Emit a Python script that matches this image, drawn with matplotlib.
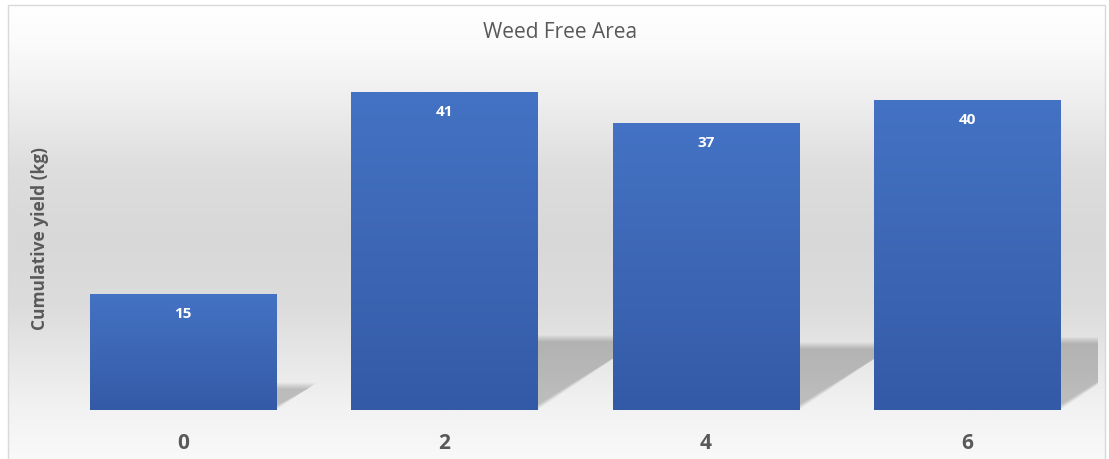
import numpy as np
import matplotlib
matplotlib.use("Agg")
import matplotlib.pyplot as plt
from matplotlib.colors import LinearSegmentedColormap
from matplotlib.patches import Polygon, Rectangle

# ---- data ----
categories = ["0", "2", "4", "6"]
yield_kg = [15, 41, 37, 40]
title = "Weed Free Area"
ylabel = "Cumulative yield (kg)"

plt.rcParams["font.family"] = ["Open Sans", "DejaVu Sans"]
TEXT = "#595959"

W, H = 1109, 460
fig = plt.figure(figsize=(W / 100, H / 100), dpi=100)
fig.patch.set_facecolor("white")

# chart-area background: vertical grey gradient inside a thin border
bg_ax = fig.add_axes([0, 0, 1, 1], zorder=-10)
bg_ax.set_axis_off()
bg_ax.set_xlim(0, 1)
bg_ax.set_ylim(0, 1)
bg_cmap = LinearSegmentedColormap.from_list(
    "bg",
    [(0.00, "#fafafa"), (0.13, "#f2f2f2"), (0.25, "#e6e6e6"), (0.35, "#dcdcdc"),
     (0.50, "#d8d8d8"), (0.65, "#dedede"), (0.80, "#efefef"), (0.92, "#fbfbfb"),
     (1.00, "#ffffff")])
grad = np.linspace(0, 1, 256).reshape(-1, 1)
x0, x1 = 8 / W, 1105 / W
y1 = 1 - 6 / H
bg_ax.imshow(grad, cmap=bg_cmap, aspect="auto", origin="lower",
             extent=[x0, x1, -0.02, y1], interpolation="bilinear")
bg_ax.add_patch(Rectangle((x0, -0.02), x1 - x0, y1 + 0.02, fill=False,
                          edgecolor="#d9d9d9", linewidth=1.0))

# ---- plot area ----
ax = fig.add_axes([52.3 / W, 49 / H, 1045.4 / W, 349 / H])
ax.set_facecolor("none")
x = np.arange(len(categories))
ax.set_xlim(-0.5, len(categories) - 0.5)
ax.set_ylim(0, 45)
for s in ax.spines.values():
    s.set_visible(False)
ax.set_yticks([])
ax.set_xticks(x)
ax.set_xticklabels(categories, fontsize=15, fontweight="bold", color=TEXT)
ax.tick_params(axis="x", length=0, pad=16)

bar_width = 0.712
bars = ax.bar(x, yield_kg, width=bar_width, color="none", zorder=3)

# floor shadows cast to the right of each bar
fig.canvas.draw()
p0 = ax.transData.transform((0, 0))
p1 = ax.transData.transform((1, 1))
ppu_x, ppu_y = p1[0] - p0[0], p1[1] - p0[1]
shadow_ratio = 0.235
shadow_slope = 1.48
n_layers = 8
for b, v in zip(bars, yield_kg):
    xl = b.get_x()
    xr = xl + b.get_width()
    dy = shadow_ratio * v
    dx = shadow_slope * dy * ppu_y / ppu_x
    for i in range(n_layers):
        sy = i * 0.9 / ppu_y
        sx = i * 0.9 * 1.3 / ppu_x
        poly = Polygon([(xl, 0), (xr - sx, 0), (xr + dx - sx, dy - sy),
                        (xl + dx, dy - sy)],
                       closed=True, facecolor="black", edgecolor="none",
                       alpha=0.029, zorder=1)
        ax.add_patch(poly)

# gradient-filled bars
bar_cmap = LinearSegmentedColormap.from_list("bar", ["#335aa6", "#3d67b5", "#4472c4"])
for b in bars:
    xl, w, h = b.get_x(), b.get_width(), b.get_height()
    im = ax.imshow(grad, cmap=bar_cmap, aspect="auto", origin="lower",
                   extent=[xl, xl + w, 0, h], zorder=3, interpolation="bilinear")
    im.set_clip_path(b)
ax.set_xlim(-0.5, len(categories) - 0.5)
ax.set_ylim(0, 45)

# value labels just inside the bar tops
for b, v in zip(bars, yield_kg):
    ax.annotate(f"{v}", (b.get_x() + b.get_width() / 2, v),
                xytext=(0, -19), textcoords="offset pixels",
                ha="center", va="center", color="white",
                fontsize=11, fontweight="bold", zorder=5)

fig.text(560 / W, 1 - 32 / H, title, ha="center", va="center",
         fontsize=15, color=TEXT)
fig.text(40 / W, 1 - 239 / H, ylabel, ha="center", va="center",
         rotation=90, fontsize=12.5, fontweight="bold", color=TEXT)

fig.savefig("out.png", dpi=100)
